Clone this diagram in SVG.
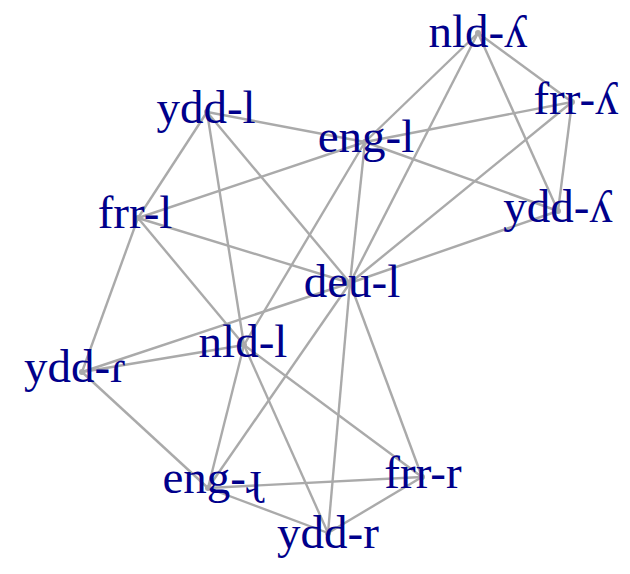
<svg xmlns="http://www.w3.org/2000/svg" width="630" height="574" viewBox="0 0 630 574">
<style>
.e{stroke:#aaaaaa;stroke-width:2.4;fill:none}
.d{fill:#aaaaaa}
.t{font-family:"Liberation Serif","DejaVu Serif","Times New Roman",serif;font-size:47px;fill:#00008b;text-anchor:middle}
</style>
<rect width="630" height="574" fill="#ffffff"/>
<g id="edges">
<line class="e" x1="478" y1="33" x2="572" y2="102"/>
<line class="e" x1="478" y1="33" x2="558" y2="211"/>
<line class="e" x1="478" y1="33" x2="365" y2="142"/>
<line class="e" x1="478" y1="33" x2="350" y2="283"/>
<line class="e" x1="572" y1="102" x2="558" y2="211"/>
<line class="e" x1="572" y1="102" x2="365" y2="142"/>
<line class="e" x1="572" y1="102" x2="350" y2="283"/>
<line class="e" x1="558" y1="211" x2="365" y2="142"/>
<line class="e" x1="558" y1="211" x2="350" y2="283"/>
<line class="e" x1="207" y1="112" x2="365" y2="142"/>
<line class="e" x1="207" y1="112" x2="138" y2="218"/>
<line class="e" x1="207" y1="112" x2="244" y2="345"/>
<line class="e" x1="207" y1="112" x2="350" y2="283"/>
<line class="e" x1="365" y1="142" x2="138" y2="218"/>
<line class="e" x1="365" y1="142" x2="244" y2="345"/>
<line class="e" x1="365" y1="142" x2="350" y2="283"/>
<line class="e" x1="138" y1="218" x2="350" y2="283"/>
<line class="e" x1="138" y1="218" x2="244" y2="345"/>
<line class="e" x1="138" y1="218" x2="82" y2="372"/>
<line class="e" x1="350" y1="283" x2="82" y2="372"/>
<line class="e" x1="350" y1="283" x2="208" y2="488"/>
<line class="e" x1="350" y1="283" x2="422" y2="477"/>
<line class="e" x1="350" y1="283" x2="328" y2="533"/>
<line class="e" x1="244" y1="345" x2="82" y2="372"/>
<line class="e" x1="244" y1="345" x2="208" y2="488"/>
<line class="e" x1="244" y1="345" x2="328" y2="533"/>
<line class="e" x1="244" y1="345" x2="422" y2="477"/>
<line class="e" x1="82" y1="372" x2="208" y2="488"/>
<line class="e" x1="208" y1="488" x2="422" y2="477"/>
<line class="e" x1="208" y1="488" x2="328" y2="533"/>
<line class="e" x1="422" y1="477" x2="328" y2="533"/>
</g>
<g id="n-nld-palatal"><circle class="d" cx="478" cy="33" r="3"/><text class="t" x="478" y="47">nld-ʎ</text></g>
<g id="n-frr-palatal"><circle class="d" cx="572" cy="102" r="3"/><text class="t" x="576" y="114">frr-ʎ</text></g>
<g id="n-ydd-palatal"><circle class="d" cx="558" cy="211" r="3"/><text class="t" x="558" y="222">ydd-ʎ</text></g>
<g id="n-ydd-l"><circle class="d" cx="207" cy="112" r="3"/><text class="t" x="206" y="123">ydd-l</text></g>
<g id="n-eng-l"><circle class="d" cx="365" cy="142" r="3"/><text class="t" x="366" y="152">eng-l</text></g>
<g id="n-frr-l"><circle class="d" cx="138" cy="218" r="3"/><text class="t" x="135" y="228">frr-l</text></g>
<g id="n-deu-l"><circle class="d" cx="350" cy="283" r="3"/><text class="t" x="352" y="297">deu-l</text></g>
<g id="n-nld-l"><circle class="d" cx="244" cy="345" r="3"/><text class="t" x="243" y="357">nld-l</text></g>
<g id="n-ydd-flap"><circle class="d" cx="82" cy="372" r="3"/><text class="t" x="75" y="382">ydd-ɾ</text></g>
<g id="n-eng-retroflex"><circle class="d" cx="208" cy="488" r="3"/><text class="t" x="212" y="493">eng-ɻ</text></g>
<g id="n-frr-r"><circle class="d" cx="422" cy="477" r="3"/><text class="t" x="423" y="488">frr-r</text></g>
<g id="n-ydd-r"><circle class="d" cx="328" cy="533" r="3"/><text class="t" x="328" y="548">ydd-r</text></g>
</svg>
